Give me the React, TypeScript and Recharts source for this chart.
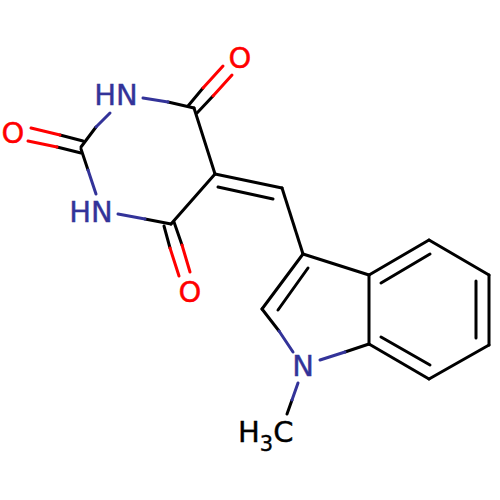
import React from "react";
import { ComposedChart, Line, Scatter, XAxis, YAxis } from "recharts";

type Bond = [number, number, number, number];

// bond pieces: x1, y1, x2, y2
const carbonBonds: Bond[] = [
  [194, 108, 168, 102],
  [96, 127, 81, 147],
  [81, 149, 88, 170],
  [194, 108, 215, 174],
  [215, 174, 171, 224],
  [171, 224, 145, 219],
  [188, 106, 203, 88],
  [197, 113, 213, 96],
  [83, 141, 60, 135],
  [81, 153, 57, 147],
  [164, 226, 170, 248],
  [174, 222, 182, 245],
  [215, 174, 282, 188],
  [218, 187, 273, 199],
  [282, 188, 303, 254],
  [303, 254, 262, 309],
  [308, 268, 278, 310],
  [262, 309, 279, 331],
  [303, 254, 369, 275],
  [369, 275, 429, 240],
  [429, 240, 489, 275],
  [489, 275, 489, 345],
  [489, 345, 429, 379],
  [429, 379, 369, 344],
  [369, 344, 369, 275],
  [381, 283, 430, 254],
  [476, 281, 476, 338],
  [381, 337, 430, 365],
  [369, 344, 345, 352],
  [292, 400, 287, 414],
];
const nitrogenBonds: Bond[] = [
  [143, 98, 168, 102],
  [110, 113, 96, 127],
  [88, 170, 96, 194],
  [118, 214, 145, 219],
  [279, 331, 293, 352],
  [320, 360, 345, 352],
  [298, 383, 292, 400],
];
const oxygenBonds: Bond[] = [
  [203, 88, 223, 66],
  [213, 96, 232, 75],
  [60, 135, 31, 128],
  [57, 147, 28, 141],
  [170, 248, 179, 276],
  [182, 245, 190, 272],
];

const nitrogenLabels = [
  { x: 116, y: 95, text: "HN" },
  { x: 91, y: 212, text: "HN" },
  { x: 303, y: 366, text: "N" },
];
const oxygenLabels = [
  { x: 240, y: 58, text: "O" },
  { x: 13, y: 133, text: "O" },
  { x: 190, y: 292, text: "O" },
];
const methylLabels = [{ x: 265, y: 432, text: "H3C" }];

const toPoints = (b: Bond) => [
  { x: b[0], y: b[1] },
  { x: b[2], y: b[3] },
];

const BLACK = "#000000";
const BLUE = "#333399";
const RED = "#ff0000";
const FONT = "'DejaVu Sans', sans-serif";

const AtomLabel = (props: any) => {
  const { cx, cy, payload, fill } = props;
  if (payload.text === "H3C") {
    return (
      <text x={cx - 27} y={cy + 10} fill={fill} stroke={fill} strokeWidth={0.4} fontFamily={FONT} fontSize={29}>
        H
        <tspan dy={9} fontSize={21}>3</tspan>
        <tspan dy={-9}>C</tspan>
      </text>
    );
  }
  return (
    <text x={cx} y={cy + 10} fill={fill} stroke={fill} strokeWidth={0.4} fontFamily={FONT} fontSize={29} textAnchor="middle">
      {payload.text}
    </text>
  );
};

const bondLines = (bonds: Bond[], color: string, name: string) =>
  bonds.map((b, i) => (
    <Line
      key={name + i}
      data={toPoints(b)}
      dataKey="y"
      stroke={color}
      strokeWidth={3}
      strokeLinecap="round"
      dot={false}
      activeDot={false}
      isAnimationActive={false}
    />
  ));

const App: React.FC = () => {
  return (
    <div style={{ position: "absolute", left: 0, top: 0, width: 500, height: 500, background: "#ffffff" }}>
      <ComposedChart width={500} height={500} margin={{ top: 0, right: 0, bottom: 0, left: 0 }}>
        <XAxis type="number" dataKey="x" domain={[0, 500]} hide />
        <YAxis type="number" dataKey="y" domain={[0, 500]} reversed hide />
        {bondLines(carbonBonds, BLACK, "c")}
        {bondLines(nitrogenBonds, BLUE, "n")}
        {bondLines(oxygenBonds, RED, "o")}
        <Scatter data={nitrogenLabels} dataKey="y" fill={BLUE} shape={AtomLabel} isAnimationActive={false} />
        <Scatter data={oxygenLabels} dataKey="y" fill={RED} shape={AtomLabel} isAnimationActive={false} />
        <Scatter data={methylLabels} dataKey="y" fill={BLACK} shape={AtomLabel} isAnimationActive={false} />
      </ComposedChart>
    </div>
  );
};

export default App;
